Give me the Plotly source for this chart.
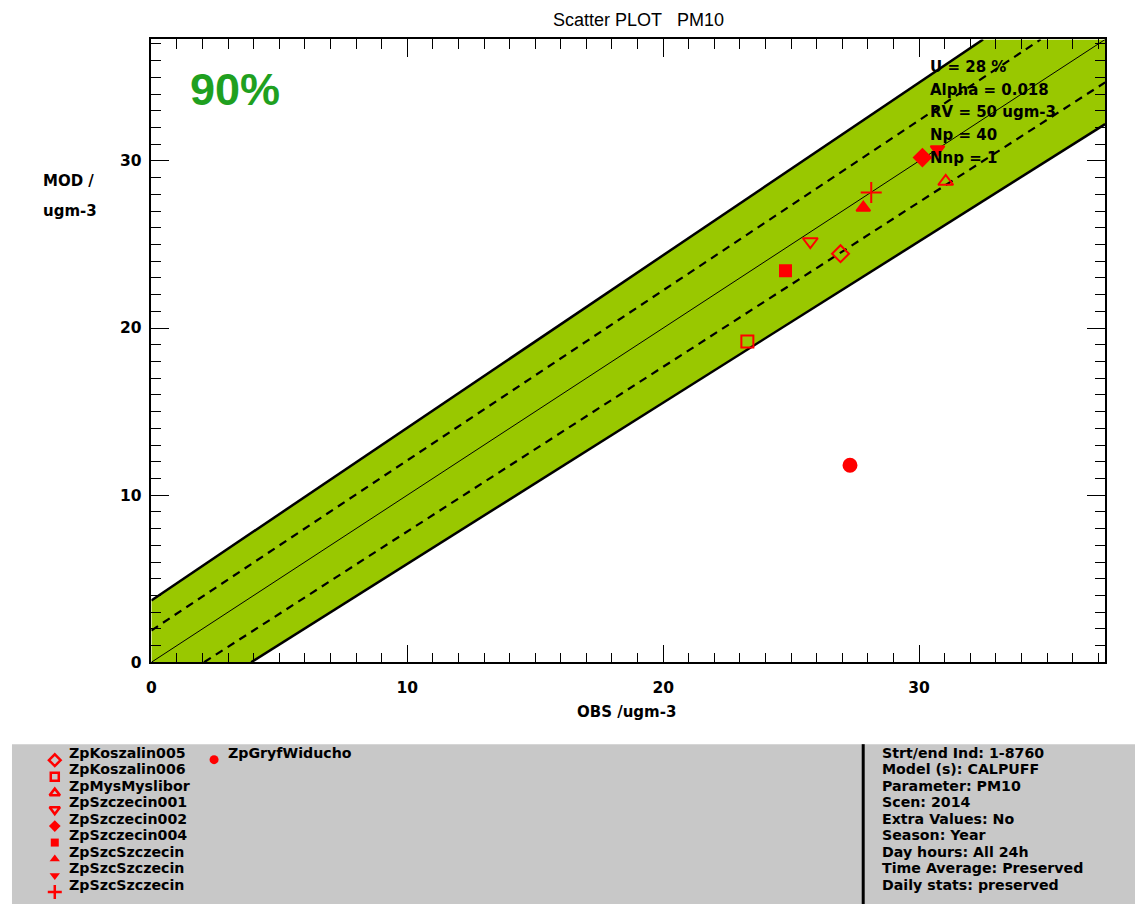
import plotly.graph_objects as go

W, H = 1135, 905          # reference picture size (all layout positions are given in it)
FIG_H = 913               # figure height (compensates the vertical squeeze seen in the photo)

# ---------------- data ----------------
stations = ["ZpKoszalin005", "ZpKoszalin006", "ZpMysMyslibor", "ZpSzczecin001",
            "ZpSzczecin002", "ZpSzczecin004", "ZpSzcSzczecin", "ZpSzcSzczecin",
            "ZpSzcSzczecin", "ZpGryfWiducho"]
obs = [26.93, 23.29, 31.04, 25.75, 30.13, 24.78, 27.82, 30.72, 28.13, 27.30]
mod = [24.45, 19.20, 28.77, 25.18, 30.20, 23.43, 27.20, 30.70, 28.11, 11.79]
symbols = ["diamond-open", "square-open", "triangle-up-open", "triangle-down-open",
           "diamond", "square", "triangle-up", "triangle-down", "cross-thin", "circle"]
sizes = [13, 12, 13, 13, 13, 11, 12, 12, 15, 13]
legend_sizes = [9, 8, 9, 9, 9, 8, 9, 9, 10, 9]

axis_max = 37.27
x_ticks = [0, 10, 20, 30]

# acceptance band (green) edges
band_poly_x = [0, 0, 32.5, 37.27, 37.27, 3.9]
band_poly_y = [0, 3.7, 37.27, 37.27, 32.2, 0]
band_up_x, band_up_y = [0, 32.5], [3.7, 37.27]
band_lo_x, band_lo_y = [3.9, 37.27], [0, 32.2]
dash_up_x, dash_up_y = [0, 34.75], [1.9, 37.27]
dash_lo_x, dash_lo_y = [2.06, 37.27], [0, 34.7]
one_x, one_y = [0, 37.27], [0, 37.27]

stats_labels = ["U = 28 %", "Alpha = 0.018", "RV = 50 ugm-3", "Np = 40", "Nnp = 1"]
info_lines = ["Strt/end Ind: 1-8760", "Model (s): CALPUFF", "Parameter: PM10",
              "Scen: 2014", "Extra Values: No", "Season: Year", "Day hours: All 24h",
              "Time Average: Preserved", "Daily stats: preserved"]
score_label = "90%"

# ---------------- styling ----------------
FONT = "Liberation Sans, Arial, sans-serif"
DV = "DejaVu Sans, Verdana, sans-serif"
RED = "#ff0000"
GREEN_BAND = "#99c800"
LEGFONT = dict(family=DV, size=14.2, color="black", weight="bold")

def px(x):
    return x / W

def py(y):
    return 1 - y / H

fig = go.Figure()

# band
fig.add_trace(go.Scatter(x=band_poly_x, y=band_poly_y, fill="toself", fillcolor=GREEN_BAND,
                         mode="none", hoverinfo="skip"))
for xs, ys in [(band_up_x, band_up_y), (band_lo_x, band_lo_y)]:
    fig.add_trace(go.Scatter(x=xs, y=ys, mode="lines", line=dict(color="black", width=2.5),
                             hoverinfo="skip"))
for xs, ys in [(dash_up_x, dash_up_y), (dash_lo_x, dash_lo_y)]:
    fig.add_trace(go.Scatter(x=xs, y=ys, mode="lines",
                             line=dict(color="black", width=2.2, dash="8px,6px"),
                             hoverinfo="skip"))
fig.add_trace(go.Scatter(x=one_x, y=one_y, mode="lines", line=dict(color="black", width=1),
                         hoverinfo="skip"))

# points
for i, name in enumerate(stations):
    fig.add_trace(go.Scatter(
        x=[obs[i]], y=[mod[i]], mode="markers", name=name,
        marker=dict(symbol=symbols[i], size=sizes[i], color=RED,
                    line=dict(color=RED, width=2)),
        cliponaxis=False))

# ---------------- legend (drawn on a pixel overlay axis) ----------------
leg_step = 16.5
for i in range(9):
    outlined = "open" in symbols[i] or "thin" in symbols[i]
    fig.add_trace(go.Scatter(
        x=[50], y=[761 + i * leg_step], mode="markers", xaxis="x2", yaxis="y2",
        marker=dict(symbol=symbols[i], size=legend_sizes[i], color=RED,
                    line=dict(color=RED, width=2.5 if outlined else 0)),
        hoverinfo="skip"))
    fig.add_annotation(x=px(63), y=py(753.5 + i * leg_step), xref="paper", yref="paper",
                       text=stations[i], showarrow=False, xanchor="left", yanchor="middle",
                       font=LEGFONT, borderpad=0)
fig.add_trace(go.Scatter(x=[210], y=[760.5], mode="markers", xaxis="x2", yaxis="y2",
                         marker=dict(symbol=symbols[9], size=legend_sizes[9], color=RED),
                         hoverinfo="skip"))
fig.add_annotation(x=px(223), y=py(753.5), xref="paper", yref="paper", text=stations[9],
                   showarrow=False, xanchor="left", yanchor="middle", font=LEGFONT,
                   borderpad=0)

for i, t in enumerate(info_lines):
    fig.add_annotation(x=px(880), y=py(753.5 + i * leg_step), xref="paper", yref="paper",
                       text=t, showarrow=False, xanchor="left", yanchor="middle",
                       font=LEGFONT, borderpad=0)

# stats text in the plot
for i, t in enumerate(stats_labels):
    fig.add_annotation(x=px(928), y=py(67 + i * 22.7), xref="paper", yref="paper",
                       text=t, showarrow=False, xanchor="left", yanchor="middle",
                       font=dict(family=DV, size=15, color="black", weight="bold"),
                       borderpad=0)

fig.add_annotation(x=px(184), y=py(90), xref="paper", yref="paper", text=score_label,
                   showarrow=False, xanchor="left", yanchor="middle",
                   font=dict(family=FONT, size=45, color="#1fa01f", weight="bold"))

# titles
fig.add_annotation(x=px(636), y=py(20), xref="paper", yref="paper",
                   text="Scatter PLOT\u00a0\u00a0\u00a0PM10", showarrow=False,
                   xanchor="center", yanchor="middle",
                   font=dict(family="Liberation Sans Narrow, Arial Narrow, sans-serif",
                             size=18, color="black"))
fig.add_annotation(x=px(624), y=py(713), xref="paper", yref="paper", text="OBS /ugm-3",
                   showarrow=False, xanchor="center", yanchor="middle",
                   font=dict(family=DV, size=15, color="black", weight="bold"))
fig.add_annotation(x=px(36), y=py(181), xref="paper", yref="paper", text="MOD /",
                   showarrow=False, xanchor="left", yanchor="middle",
                   font=dict(family=DV, size=15, color="black", weight="bold"))
fig.add_annotation(x=px(36), y=py(211), xref="paper", yref="paper", text="ugm-3",
                   showarrow=False, xanchor="left", yanchor="middle",
                   font=dict(family=DV, size=15, color="black", weight="bold"))

# legend background box and separator
fig.add_shape(type="rect", xref="paper", yref="paper", x0=px(7), x1=1, y0=0, y1=py(745),
              fillcolor="#c8c8c8", line=dict(width=0), layer="below")
fig.add_shape(type="line", xref="paper", yref="paper", x0=px(862), x1=px(862), y0=0,
              y1=py(745), line=dict(color="black", width=3))

tickfont = dict(family=DV, size=15.5, color="black", weight="bold")
common = dict(range=[0, axis_max], showgrid=False, zeroline=False, showline=True,
              linecolor="black", linewidth=1.5, mirror="allticks", ticks="inside",
              ticklen=18, tickwidth=1, tickcolor="black", tickmode="array",
              tickvals=x_ticks, ticktext=[str(v) for v in x_ticks], tickfont=tickfont,
              minor=dict(ticks="inside", ticklen=10, dtick=1, tick0=0, tickcolor="black",
                         tickwidth=1, showgrid=False))

fig.update_layout(
    width=W, height=FIG_H, autosize=False,
    margin=dict(l=0, r=0, t=0, b=0, pad=0),
    paper_bgcolor="white", plot_bgcolor="rgba(0,0,0,0)",
    showlegend=False,
    xaxis=dict(domain=[px(147), px(1105)], anchor="y", ticklabelstandoff=10, **common),
    yaxis=dict(domain=[py(663), py(39.5)], anchor="x", ticklabelstandoff=5, **common),
    xaxis2=dict(domain=[0, 1], range=[0, W], visible=False, anchor="y2", fixedrange=True),
    yaxis2=dict(domain=[0, 1], range=[H, 0], visible=False, anchor="x2", fixedrange=True),
)

fig.write_html("out.html", config={"displayModeBar": False},
               post_script="document.body.style.margin='0';document.body.style.overflow='hidden';")
